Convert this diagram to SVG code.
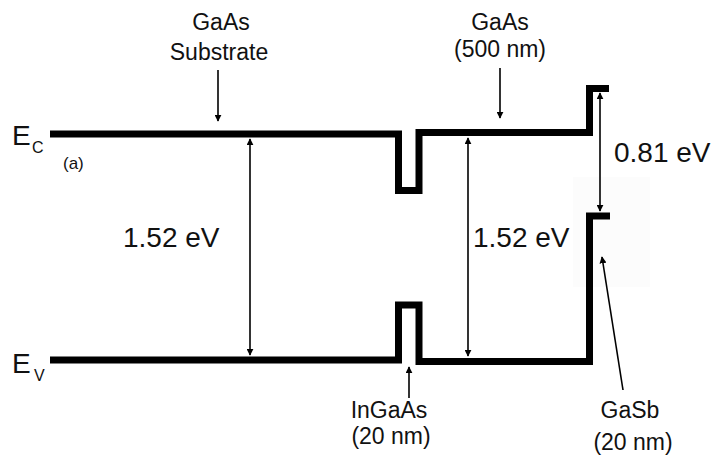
<svg xmlns="http://www.w3.org/2000/svg" width="718" height="458" viewBox="0 0 718 458">
<defs>
<style>
text{font-family:"Liberation Sans",Arial,sans-serif;fill:#111}
.band{fill:none;stroke:#000;stroke-width:7;stroke-linejoin:miter;stroke-linecap:butt}
.arr{stroke:#000;stroke-width:1.6;fill:none}
.lbl{font-size:23px;text-anchor:middle}
.ev{font-size:28px}
</style>
<marker id="ah" viewBox="0 0 10 10" refX="9" refY="5" markerWidth="7" markerHeight="7" markerUnits="userSpaceOnUse" orient="auto-start-reverse">
<path d="M0,0 L10,5 L0,10 Z" fill="#000"/>
</marker>
</defs>
<rect x="573" y="177" width="77" height="110" fill="#fcfcfc"/>
<g id="conduction-band">
<path class="band" d="M50,134 H398.5 V190.5 H419 V132.5 H589.5 V88.5 H609"/>
</g>
<g id="valence-band">
<path class="band" d="M50,360 H398.5 V305 H419 V361.5 H589.5 V216 H610"/>
</g>
<g id="connectors">
<line class="arr" x1="250" y1="139" x2="250" y2="355" marker-start="url(#ah)" marker-end="url(#ah)"/>
<line class="arr" x1="468" y1="138" x2="468" y2="356" marker-start="url(#ah)" marker-end="url(#ah)"/>
<line class="arr" x1="600" y1="93" x2="600" y2="211" marker-start="url(#ah)" marker-end="url(#ah)"/>
<line class="arr" x1="218" y1="70" x2="218" y2="121" marker-end="url(#ah)"/>
<line class="arr" x1="500" y1="68" x2="500" y2="118" marker-end="url(#ah)"/>
<line class="arr" x1="409" y1="398" x2="409" y2="367" marker-end="url(#ah)"/>
<line class="arr" x1="623" y1="390" x2="602" y2="257" marker-end="url(#ah)"/>
</g>
<g id="label-ec">
<text x="12" y="145" font-size="28">E</text>
<text x="32" y="153" font-size="16">C</text>
<text x="63" y="169" font-size="17">(a)</text>
</g>
<g id="label-ev">
<text x="12" y="373" font-size="28">E</text>
<text x="34" y="381" font-size="16">V</text>
</g>
<g id="label-substrate">
<text class="lbl" x="221" y="30">GaAs</text>
<text class="lbl" x="219" y="60">Substrate</text>
</g>
<g id="label-gaas500">
<text class="lbl" x="500" y="30">GaAs</text>
<text class="lbl" x="500" y="57">(500 nm)</text>
</g>
<g id="label-ingaas">
<text class="lbl" x="389" y="418">InGaAs</text>
<text class="lbl" x="391" y="444">(20 nm)</text>
</g>
<g id="label-gasb">
<text class="lbl" x="630" y="418">GaSb</text>
<text class="lbl" x="633" y="450">(20 nm)</text>
</g>
<g id="gaps">
<text class="ev" x="123" y="247">1.52 eV</text>
<text class="ev" x="473" y="247">1.52 eV</text>
<text class="ev" x="614" y="162" font-size="27">0.81 eV</text>
</g>
</svg>
